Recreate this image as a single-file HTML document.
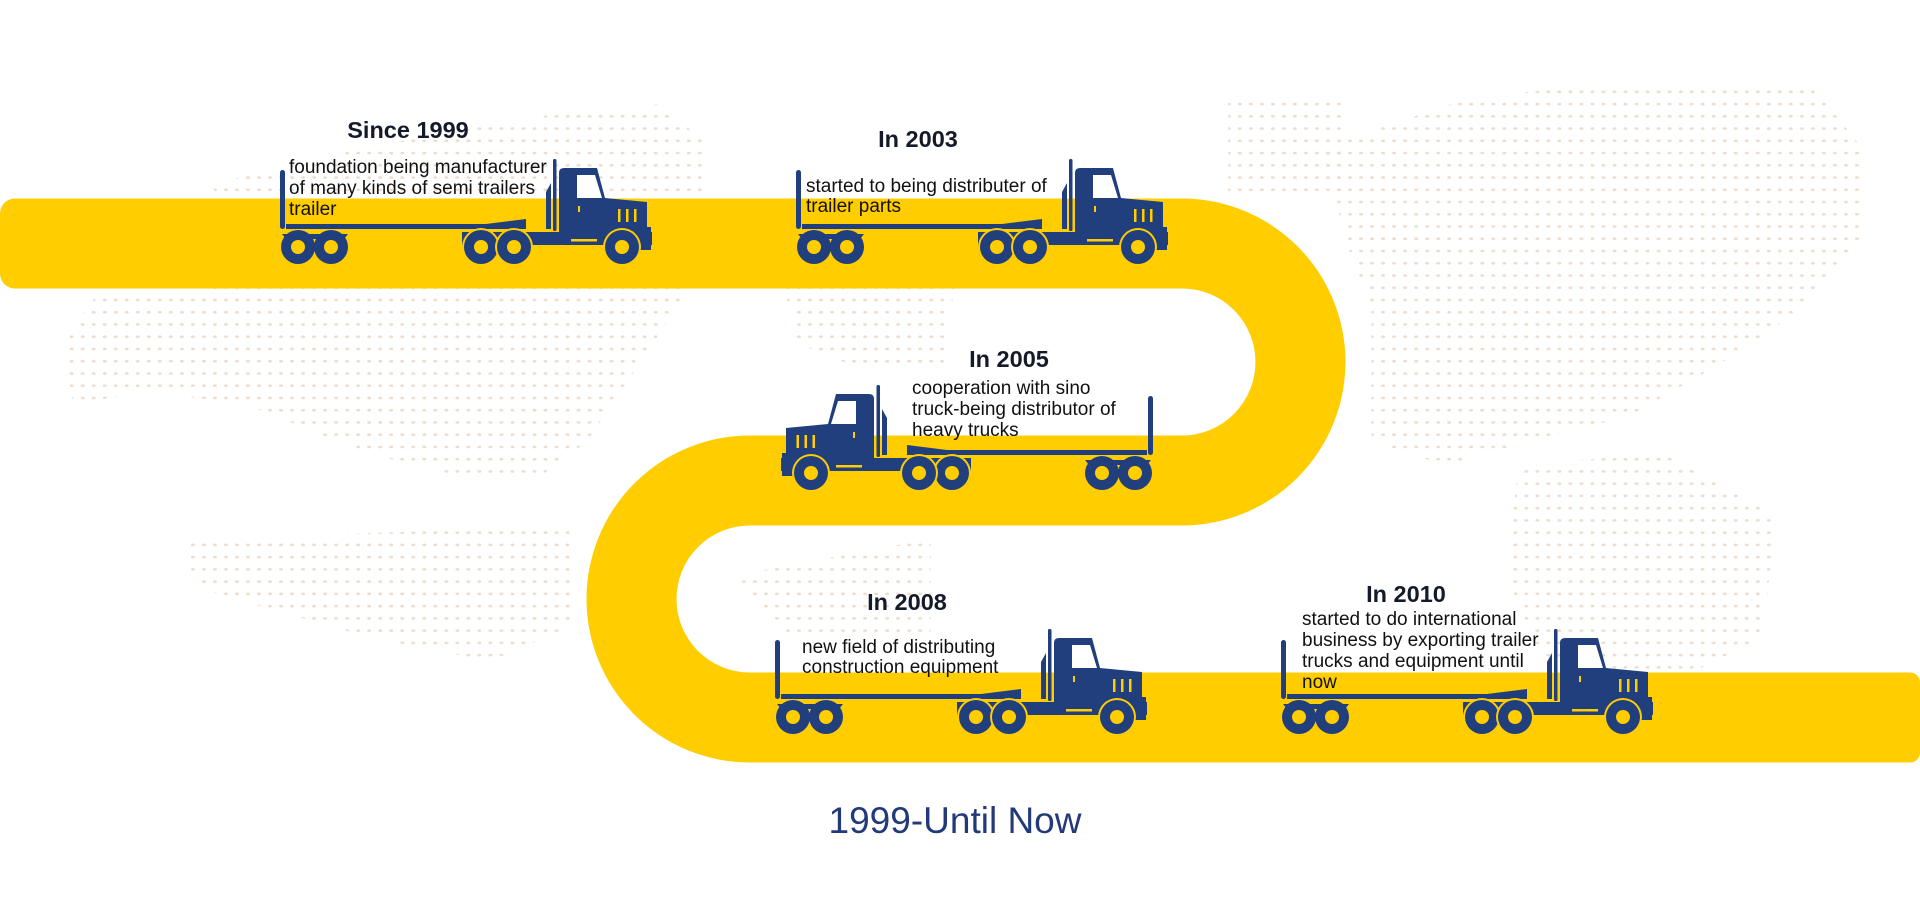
<!DOCTYPE html>
<html><head><meta charset="utf-8"><style>
html,body{margin:0;padding:0;background:#fff;}
body{width:1920px;height:907px;overflow:hidden;position:relative;font-family:"Liberation Sans",Arial,sans-serif;}
svg{position:absolute;left:0;top:0;}
.h{font-weight:bold;font-size:23.5px;fill:#141a2a;text-anchor:middle;}
.d{font-size:19px;fill:#111;}
</style></head><body>
<svg width="1920" height="907" viewBox="0 0 1920 907">
<defs>
<pattern id="dots" width="9" height="10" patternUnits="userSpaceOnUse">
<ellipse cx="4.5" cy="5" rx="1.6" ry="1.1" fill="#ecdccd"/>
</pattern>
<g id="truck">
<rect x="0" y="-77" width="5" height="59" rx="2.5" fill="#213e7d"/>
<path d="M6 -23 H206 L246 -28 V-18 H6 Z" fill="#213e7d"/>
<path d="M2 -13 H68 L64 -8 H6 Z" fill="#213e7d"/>
<circle cx="18" cy="0" r="17" fill="#213e7d"/><circle cx="18" cy="0" r="7" fill="#ffcd00"/>
<circle cx="51" cy="0" r="17" fill="#213e7d"/><circle cx="51" cy="0" r="7" fill="#ffcd00"/>
<rect x="273" y="-88" width="3.5" height="72" rx="1.5" fill="#213e7d"/>
<path d="M266 -55 L271 -64 V-18 H266 Z" fill="#213e7d"/>
<path d="M182 -15 H372 V-2 H182 Z" fill="#213e7d"/>
<path d="M279 -74 Q279 -79 284 -79 H317 L325 -49 L367 -45 V-15 H279 Z" fill="#213e7d"/>
<path d="M367 -20 H371 V3 H350 V-15 Z" fill="#213e7d"/>
<path d="M297 -72 H315 L322 -49 H297 Z" fill="#fff"/>
<rect x="338" y="-38" width="2.5" height="13" fill="#ffcd00"/>
<rect x="346" y="-38" width="2.5" height="13" fill="#ffcd00"/>
<rect x="354" y="-38" width="2.5" height="13" fill="#ffcd00"/>
<rect x="298" y="-41" width="2" height="6" fill="#ffcd00"/>
<rect x="291" y="-8" width="26" height="2.5" fill="#ffcd00"/>
<path d="M182 -15 H196 L190 -8 Z" fill="#213e7d"/>
<circle cx="201" cy="0" r="19" fill="#ffcd00"/><circle cx="201" cy="0" r="17" fill="#213e7d"/><circle cx="201" cy="0" r="7" fill="#ffcd00"/>
<circle cx="234" cy="0" r="19" fill="#ffcd00"/><circle cx="234" cy="0" r="17" fill="#213e7d"/><circle cx="234" cy="0" r="7" fill="#ffcd00"/>
<circle cx="342" cy="0" r="19" fill="#ffcd00"/><circle cx="342" cy="0" r="17" fill="#213e7d"/><circle cx="342" cy="0" r="7" fill="#ffcd00"/>
</g>
</defs>
<g transform="scale(1.2245)" fill="url(#dots)">
<polygon points="175,150 300,120 470,90 540,85 580,120 560,240 520,300 480,360 440,390 380,390 300,370 200,330 120,320 60,330 50,280 80,240 170,240"/>
<polygon points="150,440 470,430 470,510 400,540 300,520 160,480"/>
<polygon points="640,230 780,230 770,300 700,300 650,280"/>
<polygon points="1003,80 1100,80 1100,160 1003,160"/>
<polygon points="1080,120 1200,80 1300,70 1480,70 1520,120 1520,200 1460,260 1400,300 1330,340 1250,360 1180,380 1120,360 1120,250 1100,200"/>
<polygon points="1240,380 1360,370 1450,420 1440,520 1360,560 1260,540 1230,470"/>
<polygon points="600,470 760,440 760,520 640,520"/>
</g>
<path d="M40 243.5 H1182 A118.5 118.5 0 0 1 1182 480.5 H750 A118.5 118.5 0 0 0 750 717.5 H1890" fill="none" stroke="#ffcd00" stroke-width="90"/>
<rect x="0" y="198.5" width="70" height="90" rx="15" fill="#ffcd00"/>
<rect x="1850" y="672.5" width="70" height="90" rx="10" fill="#ffcd00"/>
<use href="#truck" transform="translate(280,247)"/>
<use href="#truck" transform="translate(796,247)"/>
<use href="#truck" transform="translate(1153,473) scale(-1,1)"/>
<use href="#truck" transform="translate(775,717)"/>
<use href="#truck" transform="translate(1281,717)"/>
<text class="h" x="408" y="138">Since 1999</text>
<text class="d" x="289" y="173">foundation being manufacturer</text>
<text class="d" x="289" y="194">of many kinds of semi trailers</text>
<text class="d" x="289" y="215">trailer</text>
<text class="h" x="918" y="147">In 2003</text>
<text class="d" x="806" y="192">started to being distributer of</text>
<text class="d" x="806" y="212">trailer parts</text>
<text class="h" x="1009" y="367">In 2005</text>
<text class="d" x="912" y="394">cooperation with sino</text>
<text class="d" x="912" y="415">truck-being distributor of</text>
<text class="d" x="912" y="436">heavy trucks</text>
<text class="h" x="907" y="610">In 2008</text>
<text class="d" x="802" y="653">new field of distributing</text>
<text class="d" x="802" y="673">construction equipment</text>
<text class="h" x="1406" y="602">In 2010</text>
<text class="d" x="1302" y="625">started to do international</text>
<text class="d" x="1302" y="646">business by exporting trailer</text>
<text class="d" x="1302" y="667">trucks and equipment until</text>
<text class="d" x="1302" y="688">now</text>
<text x="955" y="833" text-anchor="middle" font-size="37" fill="#22397a">1999-Until Now</text>
</svg>
</body></html>
